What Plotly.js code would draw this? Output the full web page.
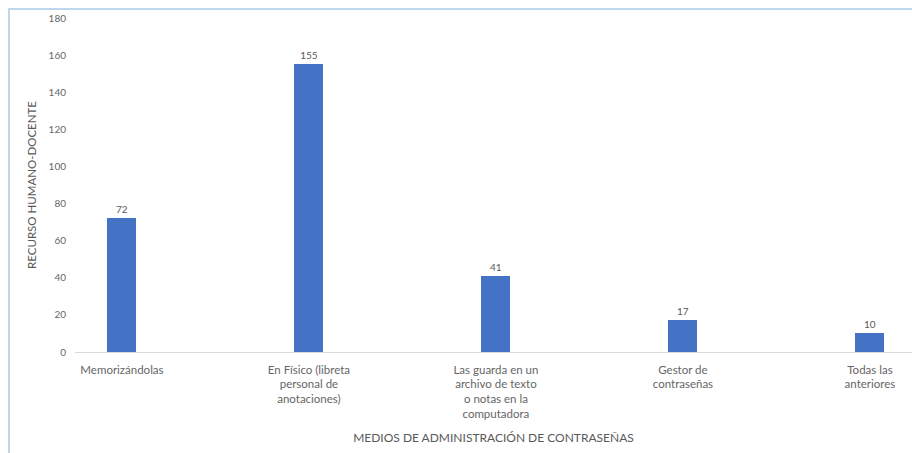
<!DOCTYPE html>
<html>
<head>
<meta charset="utf-8">
<script src="https://cdn.plot.ly/plotly-3.0.1.min.js"></script>
<style>
html,body{margin:0;padding:0;background:#fff;}
#chart{width:912px;height:453px;}
</style>
</head>
<body>
<div id="chart"></div>
<script>
const categories = [
  "Memorizándolas",
  "En Físico (libreta<br>personal de<br>anotaciones)",
  "Las guarda en un<br>archivo de texto<br>o notas en la<br>computadora",
  "Gestor de<br>contraseñas",
  "Todas las<br>anteriores"
];
const values = [72, 155, 41, 17, 10];
const yTickVals = [0, 20, 40, 60, 80, 100, 120, 140, 160, 180];
const xTitle = "MEDIOS DE ADMINISTRACIÓN DE CONTRASEÑAS";
const yTitle = "RECURSO HUMANO-DOCENTE";

const FONT = "Lato, 'Open Sans', sans-serif";

const trace = {
  type: "bar",
  x: categories,
  y: values,
  width: 0.155,
  marker: {color: "#4472C4"},
  text: values.map(String),
  textposition: "outside",
  textfont: {family: FONT, size: 10, color: "#595959"},
  cliponaxis: false,
  hoverinfo: "none"
};

const layout = {
  width: 912,
  height: 453,
  margin: {l: 75, r: 0, t: 18, b: 101},
  paper_bgcolor: "#ffffff",
  plot_bgcolor: "#ffffff",
  showlegend: false,
  font: {family: FONT, color: "#595959"},
  bargap: 0,
  xaxis: {
    type: "category",
    range: [-0.251, 4.225],
    showgrid: false,
    zeroline: false,
    showline: false,
    ticks: "",
    ticklabelstandoff: 9,
    tickangle: 0,
    tickfont: {family: FONT, size: 11.5, color: "#666666"},
    title: {text: xTitle, font: {family: FONT, size: 12, color: "#595959"}, standoff: 14},
    automargin: false
  },
  yaxis: {
    range: [0, 180],
    tickvals: yTickVals,
    ticktext: yTickVals.map(String),
    showgrid: false,
    zeroline: true,
    zerolinecolor: "#D9D9D9",
    zerolinewidth: 1,
    showline: false,
    ticks: "",
    ticklabelstandoff: 8,
    tickfont: {family: FONT, size: 10, color: "#666666"},
    title: {text: yTitle, font: {family: FONT, size: 11.5, color: "#595959"}, standoff: 9},
    automargin: false
  },
  shapes: [{
    type: "rect",
    xref: "paper", yref: "paper",
    x0: (9 - 75) / 837, x1: 1.3,
    y0: -0.6, y1: 1 + (18 - 9) / 334,
    line: {color: "#BDD7EE", width: 2},
    fillcolor: "rgba(0,0,0,0)",
    layer: "below"
  }]
};

Plotly.newPlot("chart", [trace], layout, {displayModeBar: false, staticPlot: true});
</script>
</body>
</html>
